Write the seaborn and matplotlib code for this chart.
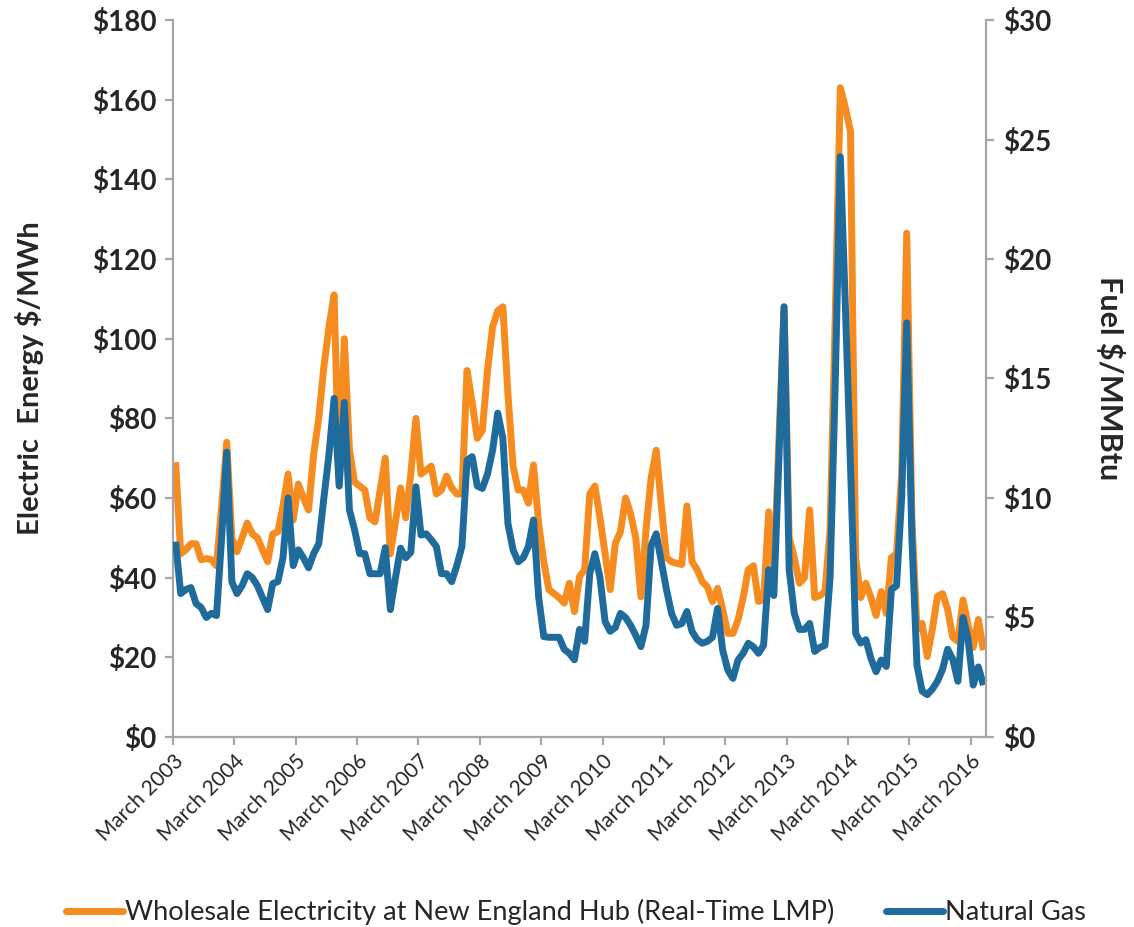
import pandas as pd
import seaborn as sns
import matplotlib.pyplot as plt
from matplotlib.lines import Line2D

# Monthly values, March 2003 - May 2016
electricity = [
    69, 46, 47, 48.5, 48.5, 44.5, 44.8, 44.5, 43, 58,
    74, 50, 46.5, 50, 53.7, 51, 50, 47, 44, 51,
    51.5, 58, 66, 54.5, 63.5, 60, 57, 71, 80, 93,
    103, 111, 63, 100, 72, 64, 63, 62, 55, 54,
    62, 70, 46, 54, 62.5, 55, 66, 80, 66, 67,
    68, 61, 62, 65.5, 62.5, 61, 61, 92, 84, 75,
    77, 92, 103, 107, 108, 86, 68, 62, 62, 58.7,
    68.3, 53.6, 44, 37, 36, 35, 33.6, 38.6, 31.5, 40.3,
    42, 61, 63, 55, 46, 37, 48.6, 51.5, 60, 56,
    50, 35.2, 52, 65, 72, 58, 45, 44, 43.6, 43.3,
    58, 44, 42, 39, 37.7, 34, 37.3, 32, 26, 26,
    29.4, 35, 42, 43, 34, 34.5, 56.5, 40, 75, 108,
    50, 45, 38.6, 40, 57, 35, 35.5, 36.5, 52, 105,
    163, 158, 152, 45, 35, 38.6, 35, 30.5, 36.5, 31,
    45, 46, 66, 126.5, 55, 27, 28.5, 20.2, 27, 35.3,
    36, 32, 25, 24, 34.4, 28, 22.5, 29.5, 21.8,
]

natural_gas = [
    8.17, 6.0, 6.17, 6.25, 5.58, 5.42, 5.0, 5.17, 5.08, 8.33,
    11.92, 6.5, 6.0, 6.33, 6.83, 6.67, 6.33, 5.83, 5.33, 6.42,
    6.5, 7.5, 10.0, 7.17, 7.83, 7.5, 7.08, 7.67, 8.08, 10.0,
    11.83, 14.17, 10.5, 14.0, 9.5, 8.67, 7.67, 7.67, 6.83, 6.83,
    6.83, 7.92, 5.33, 6.67, 7.9, 7.5, 7.73, 10.47, 8.45, 8.5,
    8.25, 7.97, 6.83, 6.83, 6.5, 7.17, 7.97, 11.58, 11.73, 10.5,
    10.4, 11.0, 12.0, 13.55, 12.5, 8.93, 7.83, 7.33, 7.5, 7.97,
    9.08, 5.87, 4.2, 4.17, 4.17, 4.17, 3.67, 3.5, 3.23, 4.5,
    4.0, 6.83, 7.67, 6.67, 4.83, 4.42, 4.58, 5.17, 5.0, 4.67,
    4.25, 3.78, 4.67, 8.0, 8.5, 7.33, 6.17, 5.17, 4.67, 4.75,
    5.25, 4.42, 4.08, 3.92, 4.0, 4.17, 5.38, 3.63, 2.8, 2.45,
    3.22, 3.5, 3.92, 3.77, 3.5, 3.83, 7.0, 5.92, 11.67, 18.0,
    7.0, 5.17, 4.5, 4.5, 4.75, 3.58, 3.75, 3.83, 6.67, 14.67,
    24.28, 18.0, 11.33, 4.33, 3.93, 4.07, 3.28, 2.73, 3.22, 2.95,
    6.17, 6.33, 10.0, 17.33, 8.33, 3.0, 1.92, 1.77, 2.0, 2.33,
    2.83, 3.67, 3.25, 2.33, 5.0, 4.08, 2.17, 2.93, 2.17,
]

tick_labels = [
    'March 2003', 'March 2004', 'March 2005', 'March 2006', 'March 2007',
    'March 2008', 'March 2009', 'March 2010', 'March 2011', 'March 2012',
    'March 2013', 'March 2014', 'March 2015', 'March 2016',
]

elec_ticks = [0, 20, 40, 60, 80, 100, 120, 140, 160, 180]
fuel_ticks = [0, 5, 10, 15, 20, 25, 30]

ORANGE = '#F68B1F'
BLUE = '#1F6B9C'
GREY = '#A6A6A6'
LW = 5.0

sns.set_theme(style='white')
plt.rcParams['font.family'] = ['Lato', 'DejaVu Sans']

df = pd.DataFrame({
    'month': range(len(electricity)),
    'electricity': electricity,
    'gas': natural_gas,
})

fig = plt.figure(figsize=(11.34, 9.27), dpi=100)
ax = fig.add_axes([0.1526, 0.2050, 0.7169, 0.7734])
ax2 = ax.twinx()

sns.lineplot(data=df, x='month', y='electricity', ax=ax, color=ORANGE,
             linewidth=LW, solid_joinstyle='round', solid_capstyle='butt')
sns.lineplot(data=df, x='month', y='gas', ax=ax2, color=BLUE,
             linewidth=LW, solid_joinstyle='round', solid_capstyle='butt')

ax.set_xlim(-0.5, len(electricity) - 0.5)
ax.set_ylim(0, 180)
ax2.set_ylim(0, 30)

ax.set_xticks([-0.5 + 12 * i for i in range(len(tick_labels))])
ax.set_xticklabels(tick_labels, rotation=45, ha='right',
                   rotation_mode='anchor', fontsize=15)
ax.set_yticks(elec_ticks)
ax.set_yticklabels([f'${v}' for v in elec_ticks], fontsize=20, fontweight='bold')
ax2.set_yticks(fuel_ticks)
ax2.set_yticklabels([f'${v}' for v in fuel_ticks], fontsize=20, fontweight='bold')

for a in (ax, ax2):
    a.spines['top'].set_visible(False)
    for s in a.spines.values():
        s.set_color(GREY)
        s.set_linewidth(1.6)
ax.spines['right'].set_visible(False)
ax2.spines['left'].set_visible(False)
ax2.spines['bottom'].set_visible(False)

ax.tick_params(axis='x', bottom=True, direction='out', length=6, width=1.6,
               color=GREY, pad=4)
ax.tick_params(axis='y', left=True, direction='out', length=6, width=1.6,
               color=GREY, pad=6)
ax2.tick_params(axis='y', right=True, direction='out', length=6, width=1.6,
                color=GREY, pad=6)

ax.set_xlabel('')
ax.set_ylabel('Electric  Energy $/MWh', fontsize=21, fontweight='bold',
              va='center')
ax.yaxis.set_label_coords(-0.176, 0.5)
ax2.set_ylabel('Fuel $/MMBtu', fontsize=22, fontweight='bold',
               rotation=270, va='center')
ax2.yaxis.set_label_coords(1.1525, 0.5)

handles = [Line2D([0], [0], color=ORANGE, lw=LW),
           Line2D([0], [0], color=BLUE, lw=LW)]
fig.legend(handles,
           ['Wholesale Electricity at New England Hub (Real-Time LMP)', 'Natural Gas'],
           loc='center', bbox_to_anchor=(0.508, 0.016), ncol=2, frameon=False,
           fontsize=19.5, handlelength=2.1, handletextpad=0.08, columnspacing=1.9)

fig.savefig('out.png', dpi=100)
